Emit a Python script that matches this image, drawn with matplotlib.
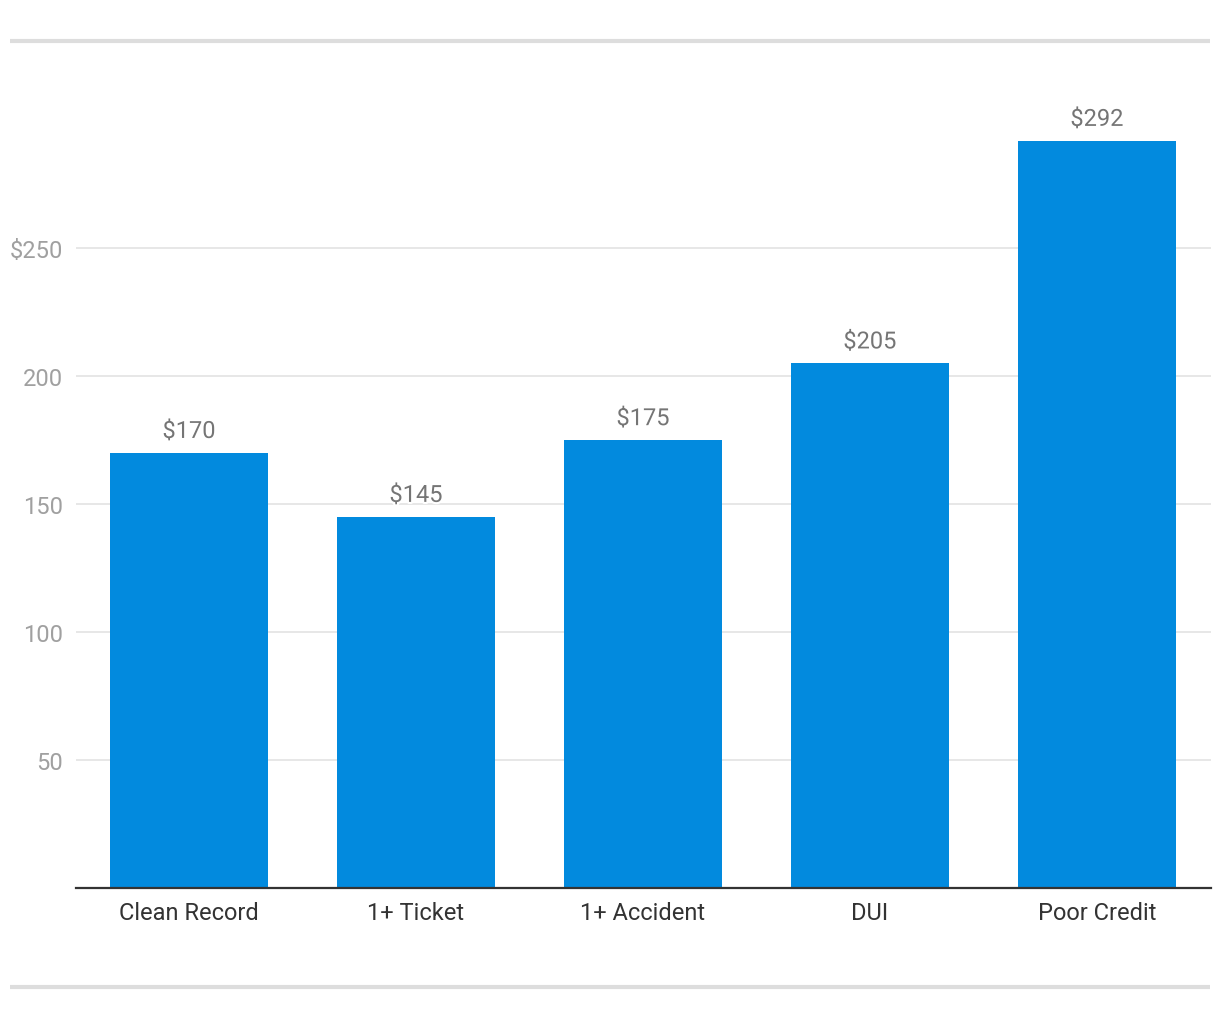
import matplotlib.pyplot as plt
import matplotlib.patheffects as pe
from matplotlib.lines import Line2D

categories = ['Clean Record', '1+ Ticket', '1+ Accident', 'DUI', 'Poor Credit']
values = [170, 145, 175, 205, 292]
yticks = [50, 100, 150, 200, 250]
ytick_labels = ['50', '100', '150', '200', '$250']

plt.rcParams['font.family'] = ['Roboto', 'DejaVu Sans']

fig = plt.figure(figsize=(12.2, 10.2), dpi=100)
ax = fig.add_axes([75.5 / 1220, 1 - 888.5 / 1020, 1135 / 1220, (888.5 - 70) / 1020])

x = range(len(categories))
ax.bar(x, values, width=0.7, color='#028ade', zorder=2)
ax.set_xlim(-0.5, len(categories) - 0.5)
ax.set_ylim(0, 320)

ax.set_yticks(yticks)
ax.set_yticklabels(ytick_labels)
ax.set_xticks(list(x))
ax.set_xticklabels(categories)
ax.tick_params(axis='y', length=0, pad=9, labelsize=17, labelcolor='#a0a0a0')
ax.tick_params(axis='x', length=0, pad=10, labelsize=17, labelcolor='#333333')
ax.grid(axis='y', color='#e3e3e3', linewidth=1.2, zorder=0)
ax.set_axisbelow(True)

for s in ['top', 'right', 'left']:
    ax.spines[s].set_visible(False)
ax.spines['bottom'].set_color('#333333')
ax.spines['bottom'].set_linewidth(1.6)
ax.spines['bottom'].set_zorder(3)

for i, v in enumerate(values):
    ax.annotate('$' + str(v), (i, v), xytext=(0, 7), textcoords='offset points',
                ha='center', va='bottom', fontsize=17, color='#757575', zorder=4,
                path_effects=[pe.withStroke(linewidth=3, foreground='white')])

# light rules at top and bottom
for yy in [42, 988]:
    fig.add_artist(Line2D([10 / 1220, 1210 / 1220], [1 - yy / 1020] * 2,
                          color='#dddddd', linewidth=3, solid_capstyle='butt',
                          transform=fig.transFigure))

fig.savefig('out.png', dpi=100, facecolor='white')
